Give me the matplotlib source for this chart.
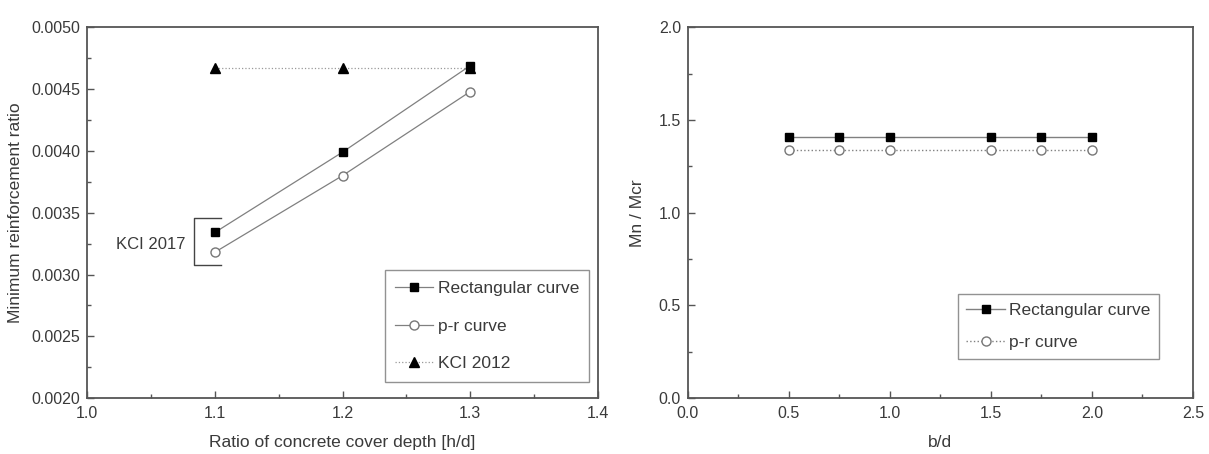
import numpy as np
import matplotlib
matplotlib.use('Agg')
import matplotlib.pyplot as plt
from matplotlib.ticker import MultipleLocator, FormatStrFormatter

plt.rcParams['font.family'] = ['Liberation Sans', 'DejaVu Sans']

# -----------------------------
#  Data - left panel
# -----------------------------
cover_ratio = [1.1, 1.2, 1.3]
rect_min_ratio = [0.00334, 0.00399, 0.00469]
pr_min_ratio = [0.00318, 0.00380, 0.00448]
kci2012_ratio = [0.00467, 0.00467, 0.00467]

# KCI 2017 bracket (data coordinates)
kci2017_label = 'KCI 2017'
bracket_x = [1.105, 1.084, 1.084, 1.105]
bracket_y = [0.00346, 0.00346, 0.00308, 0.00308]

# -----------------------------
#  Data - right panel
# -----------------------------
bd_ratio = [0.5, 0.75, 1.0, 1.5, 1.75, 2.0]
rect_mn_mcr = [1.41, 1.41, 1.41, 1.41, 1.41, 1.41]
pr_mn_mcr = [1.34, 1.34, 1.34, 1.34, 1.34, 1.34]

TXT = '#3a3a3a'
LINE = '#808080'
SPINE = '#555555'
FS_TICK = 11.5
FS_LAB = 12.5
FS_LEG = 12.5

fig = plt.figure(figsize=(12.09, 4.54), dpi=100)
ax1 = fig.add_axes([0.072, 0.123, 0.4227, 0.817])
ax2 = fig.add_axes([0.569, 0.123, 0.4177, 0.817])


def style_axes(ax):
    for s in ax.spines.values():
        s.set_color(SPINE)
        s.set_linewidth(1.3)
    ax.tick_params(which='both', direction='in', top=False, right=False,
                   colors=SPINE, labelcolor=TXT, labelsize=FS_TICK)
    ax.tick_params(which='major', length=5, width=1)
    ax.tick_params(which='minor', length=3, width=1)
    ax.tick_params(axis='x', pad=6)
    ax.tick_params(axis='y', pad=5)


def style_legend(leg):
    leg.get_frame().set_edgecolor('#777777')
    leg.get_frame().set_linewidth(1.0)
    for t in leg.get_texts():
        t.set_color(TXT)


# ---------- left panel ----------
ax1.plot(cover_ratio, kci2012_ratio, color='#999999', linestyle=':', linewidth=0.9,
         marker='^', markersize=7, markerfacecolor='black', markeredgecolor='black',
         label='KCI 2012', zorder=2)
ax1.plot(cover_ratio, rect_min_ratio, color=LINE, linewidth=0.9,
         marker='s', markersize=5.5, markerfacecolor='black', markeredgecolor='black',
         label='Rectangular curve', zorder=3)
ax1.plot(cover_ratio, pr_min_ratio, color=LINE, linewidth=0.9,
         marker='o', markersize=6.5, markerfacecolor='white', markeredgecolor='#777777',
         label='p-r curve', zorder=3)

ax1.plot(bracket_x, bracket_y, color='#444444', linewidth=1.0)
ax1.text(1.077, 0.00324, kci2017_label, ha='right', va='center', fontsize=12, color=TXT)

ax1.set_xlim(1.0, 1.4)
ax1.set_ylim(0.0020, 0.0050)
ax1.xaxis.set_major_locator(MultipleLocator(0.1))
ax1.xaxis.set_minor_locator(MultipleLocator(0.05))
ax1.yaxis.set_major_locator(MultipleLocator(0.0005))
ax1.yaxis.set_minor_locator(MultipleLocator(0.00025))
ax1.xaxis.set_major_formatter(FormatStrFormatter('%.1f'))
ax1.yaxis.set_major_formatter(FormatStrFormatter('%.4f'))
ax1.set_xlabel('Ratio of concrete cover depth [h/d]', fontsize=FS_LAB, color=TXT, labelpad=10)
ax1.set_ylabel('Minimum reinforcement ratio', fontsize=FS_LAB, color=TXT, labelpad=6)
style_axes(ax1)

h, l = ax1.get_legend_handles_labels()
order = [1, 2, 0]
leg1 = ax1.legend([h[i] for i in order], [l[i] for i in order],
                  loc='lower right', bbox_to_anchor=(0.983, 0.044),
                  fontsize=FS_LEG, frameon=True, fancybox=False,
                  handlelength=2.2, labelspacing=1.3, borderpad=0.6,
                  handletextpad=0.25, borderaxespad=0)
style_legend(leg1)

# ---------- right panel ----------
ax2.plot(bd_ratio, rect_mn_mcr, color=LINE, linewidth=1.0,
         marker='s', markersize=5.5, markerfacecolor='black', markeredgecolor='black',
         label='Rectangular curve', zorder=3)
ax2.plot(bd_ratio, pr_mn_mcr, color=LINE, linewidth=1.0, linestyle=':',
         marker='o', markersize=6.5, markerfacecolor='white', markeredgecolor='#777777',
         label='p-r curve', zorder=3)

ax2.set_xlim(0.0, 2.5)
ax2.set_ylim(0.0, 2.0)
ax2.xaxis.set_major_locator(MultipleLocator(0.5))
ax2.xaxis.set_minor_locator(MultipleLocator(0.25))
ax2.yaxis.set_major_locator(MultipleLocator(0.5))
ax2.yaxis.set_minor_locator(MultipleLocator(0.25))
ax2.xaxis.set_major_formatter(FormatStrFormatter('%.1f'))
ax2.yaxis.set_major_formatter(FormatStrFormatter('%.1f'))
ax2.set_xlabel('b/d', fontsize=FS_LAB, color=TXT, labelpad=10)
ax2.set_ylabel('Mn / Mcr', fontsize=FS_LAB, color=TXT, labelpad=10)
style_axes(ax2)

leg2 = ax2.legend(loc='lower right', bbox_to_anchor=(0.933, 0.106),
                  fontsize=FS_LEG, frameon=True, fancybox=False,
                  handlelength=2.2, labelspacing=1.0, borderpad=0.5,
                  handletextpad=0.25, borderaxespad=0)
style_legend(leg2)

plt.savefig('out.png', dpi=100)
